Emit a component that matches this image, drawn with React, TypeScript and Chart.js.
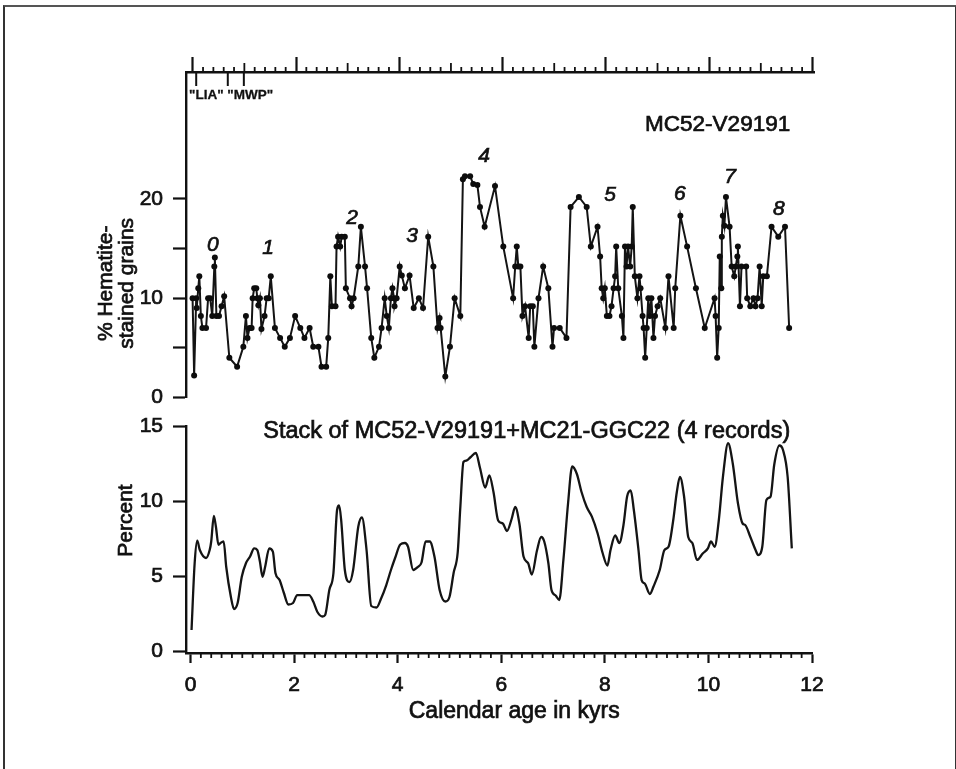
import { useEffect, useRef } from "react";
import { Chart, registerables } from "chart.js";
Chart.register(...registerables);

// ---------- data ----------
// Top panel: MC52-V29191 % hematite-stained grains vs calendar age (kyr)
const hemAge = [
  0.04, 0.07, 0.11, 0.12, 0.15, 0.17, 0.2, 0.23, 0.3, 0.34, 0.38, 0.42, 0.46, 0.47, 0.5, 0.55, 0.6, 0.65,
  0.75, 0.9, 1.02, 1.07, 1.1, 1.14, 1.18, 1.2, 1.23, 1.27, 1.29, 1.31, 1.34, 1.37, 1.43, 1.47, 1.51, 1.55,
  1.63, 1.73, 1.82, 1.92, 2.02, 2.12, 2.2, 2.3, 2.37, 2.47, 2.53, 2.62, 2.66, 2.7, 2.73, 2.8, 2.82, 2.85,
  2.89, 2.92, 2.98, 3.0, 3.08, 3.11, 3.15, 3.24, 3.29, 3.37, 3.41, 3.49, 3.55, 3.64, 3.69, 3.75, 3.79, 3.83,
  3.87, 3.9, 3.93, 3.94, 3.98, 4.04, 4.08, 4.14, 4.23, 4.31, 4.41, 4.49, 4.59, 4.69, 4.77, 4.81, 4.83, 4.92,
  5.01, 5.1, 5.21, 5.26, 5.3, 5.4, 5.46, 5.54, 5.59, 5.68, 5.88, 6.04, 6.23, 6.27, 6.3, 6.33, 6.37, 6.41,
  6.46, 6.53, 6.56, 6.61, 6.64, 6.72, 6.81, 6.91, 6.99, 7.02, 7.13, 7.26, 7.34, 7.5, 7.65, 7.73, 7.86, 7.91,
  7.94, 7.97, 8.0, 8.04, 8.09, 8.13, 8.17, 8.2, 8.22, 8.26, 8.33, 8.36, 8.39, 8.42, 8.45, 8.49, 8.52, 8.54,
  8.58, 8.63, 8.67, 8.69, 8.73, 8.75, 8.78, 8.81, 8.84, 8.87, 8.9, 8.94, 8.97, 9.02, 9.07, 9.17, 9.23, 9.33,
  9.36, 9.46, 9.59, 9.76, 9.93, 10.12, 10.14, 10.17, 10.2, 10.22, 10.25, 10.26, 10.28, 10.31, 10.34, 10.41,
  10.45, 10.5, 10.53, 10.56, 10.57, 10.61, 10.64, 10.73, 10.75, 10.81, 10.87, 10.91, 10.95, 10.99, 11.03,
  11.06, 11.13, 11.22, 11.35, 11.48, 11.56,
];
const hemPct = [
  10, 2.2, 10, 9, 11, 12.2, 8.2, 7, 7, 10, 10, 8.2, 13.2, 14.1, 8.2, 8.2, 9.2, 10.2,
  4, 3.1, 5.1, 8.2, 6, 7, 7, 10, 11, 11, 10, 9.3, 10, 6.9, 8.2, 10, 10, 12.2,
  7, 6, 5.1, 6, 8.2, 7, 6, 7, 5.1, 5.1, 3.1, 3.1, 6, 12.2, 9.2, 9.2, 15.2, 16.2,
  15.2, 16.2, 16.2, 11, 10, 9.2, 10, 13.2, 17.2, 13.2, 11, 6, 4, 5.1, 7, 10, 8.2, 7,
  10, 11, 10, 9.2, 10, 13.2, 12.3, 11, 12.3, 9, 10, 9, 16.2, 13.2, 7, 8, 7, 2.1,
  5.1, 10, 8.2, 22, 22.3, 22.3, 21.5, 21.4, 19.2, 17.2, 21.3, 15.2, 10, 13.2, 15.2, 13.2, 13.2, 8.2,
  9.2, 6, 9.2, 9.2, 5.1, 10, 13.2, 11, 5.1, 7, 7, 6, 19.2, 20.2, 19.2, 15.2, 17.2, 14.2,
  11, 10, 11, 8.2, 8.2, 9.2, 11, 12.2, 15.2, 11, 8.2, 6, 15.2, 13.2, 15.2, 13.2, 15.2, 19.2,
  12.2, 10, 12.2, 11, 8.2, 7, 4, 7, 10, 8.2, 10, 6, 8.2, 9.2, 10, 7, 12.2, 7,
  11, 18.3, 15.2, 11, 7, 10, 8.2, 4, 7, 14.2, 11, 16.2, 18.3, 17.3, 20.2, 17.2,
  13.2, 12.2, 13.2, 14.2, 15.2, 9.2, 13.2, 13.2, 10, 9.2, 10, 9.2, 10, 13.2, 9.2,
  12.2, 12.2, 17.2, 16.2, 17.2, 7,
];

// Bottom panel: stack of 4 records (percent) vs calendar age (kyr)
const stackAge = [
  0.02, 0.08, 0.13, 0.18, 0.3, 0.37, 0.4, 0.45, 0.49, 0.54, 0.58, 0.64, 0.69, 0.78, 0.84, 0.91, 0.99, 1.07,
  1.15, 1.23, 1.29, 1.34, 1.39, 1.44, 1.52, 1.59, 1.64, 1.72, 1.8, 1.89, 1.98, 2.06, 2.18, 2.29, 2.37, 2.45,
  2.55, 2.6, 2.68, 2.76, 2.83, 2.87, 2.91, 2.98, 3.07, 3.14, 3.24, 3.31, 3.4, 3.49, 3.59, 3.68, 3.78, 3.87,
  3.95, 4.05, 4.14, 4.2, 4.3, 4.39, 4.46, 4.54, 4.62, 4.71, 4.81, 4.92, 5.0, 5.08, 5.16, 5.21, 5.27, 5.33,
  5.4, 5.51, 5.59, 5.69, 5.77, 5.85, 5.94, 6.03, 6.11, 6.2, 6.27, 6.35, 6.43, 6.52, 6.59, 6.69, 6.77, 6.83,
  6.91, 6.97, 7.05, 7.12, 7.2, 7.29, 7.37, 7.46, 7.55, 7.65, 7.75, 7.86, 7.96, 8.05, 8.11, 8.2, 8.28, 8.36,
  8.43, 8.5, 8.56, 8.65, 8.71, 8.77, 8.87, 8.94, 9.06, 9.15, 9.23, 9.32, 9.39, 9.45, 9.53, 9.61, 9.69, 9.78,
  9.89, 9.99, 10.05, 10.12, 10.2, 10.28, 10.38, 10.47, 10.57, 10.66, 10.71, 10.81, 10.91, 10.96, 11.04,
  11.12, 11.2, 11.27, 11.37, 11.44, 11.53, 11.61,
];
const stackPct = [
  1.4, 5.85, 7.35, 6.73, 6.2, 6.73, 7.3, 9.0, 8.3, 7.07, 7.2, 7.3, 5.6, 3.6, 2.8, 3.2, 4.95, 5.85,
  6.3, 6.84, 6.73, 5.96, 4.95, 5.6, 6.84, 6.62, 5.2, 4.73, 3.9, 3.1, 3.2, 3.73, 3.73, 3.73, 3.3, 2.6,
  2.3, 2.4, 4.07, 5.2, 9.4, 9.7, 8.7, 5.4, 4.6, 5.4, 8.3, 8.9, 6.7, 3.0, 2.9, 3.5, 4.4, 5.4,
  6.2, 7.1, 7.2, 6.95, 5.4, 5.6, 5.9, 7.3, 7.3, 6.3, 4.07, 3.3, 3.6, 5.2, 6.6, 9.6, 12.6, 12.7,
  12.9, 13.2, 12.2, 10.9, 11.7, 10.6, 8.7, 8.5, 8.0, 8.8, 9.6, 8.5, 6.3, 5.85, 5.1, 6.7, 7.6, 7.3,
  5.85, 4.07, 3.7, 3.4, 6.07, 9.85, 12.3, 11.8, 10.6, 9.6, 8.96, 7.85, 6.5, 5.7, 6.73, 7.7, 7.2, 8.4,
  10.3, 10.7, 9.4, 6.73, 4.73, 4.5, 3.8, 4.3, 5.4, 6.73, 6.95, 8.7, 10.6, 11.6, 10.3, 7.6, 7.2, 6.07,
  6.5, 6.84, 7.3, 6.95, 8.7, 11.6, 13.85, 12.5, 9.85, 8.5, 8.4, 7.6, 6.73, 6.4, 6.95,
  10.07, 10.3, 12.4, 13.7, 13.4, 11.6, 6.84,
];

// Italic peak numbers placed in data space of the top panel
const peakNames = ["0", "1", "2", "3", "4", "5", "6", "7", "8"];
const peakAge = [0.43, 1.5, 3.12, 4.28, 5.67, 8.1, 9.45, 10.42, 11.36];
const peakPct = [15.3, 15.0, 18.1, 16.3, 24.3, 20.4, 20.5, 22.2, 19.0];

// Tick values
const topYTicks = [0, 5, 10, 15, 20];
const bottomYTicks = [0, 5, 10, 15];
const ageTicks = [0, 2, 4, 6, 8, 10, 12];
const depthMajorTicks = [0, 10, 20, 30, 40, 50, 60];
// "LIA" / "MWP" boundary markers (kyr)
const eventBounds = [0.11, 0.72, 1.03];

const FONT = "'Liberation Sans', Arial, Helvetica, sans-serif";
const INK = "#111";

function heavyText(ctx: CanvasRenderingContext2D, text: string, x: number, y: number, sw = 0.7) {
  ctx.lineWidth = sw;
  ctx.strokeStyle = INK;
  ctx.fillText(text, x, y);
  ctx.strokeText(text, x, y);
}

function vText(ctx: CanvasRenderingContext2D, text: string, x: number, y: number, font: string) {
  ctx.save();
  ctx.translate(x, y);
  ctx.rotate(-Math.PI / 2);
  ctx.font = font;
  ctx.fillStyle = INK;
  ctx.textAlign = "center";
  ctx.textBaseline = "middle";
  heavyText(ctx, text, 0, 0);
  ctx.restore();
}

export default function App() {
  const topRef = useRef<HTMLCanvasElement>(null);
  const botRef = useRef<HTMLCanvasElement>(null);

  useEffect(() => {
    const X_MIN = -0.087;

    const topDecor = {
      id: "topDecor",
      afterDraw(chart: any) {
        const { ctx, chartArea: a, scales } = chart;
        const x = scales.x, y = scales.y, d = scales.depth;
        ctx.save();
        ctx.strokeStyle = INK;
        ctx.lineWidth = 1.8;
        // minor / medium ticks of the top (depth) axis
        for (let v = 0; v <= 60; v++) {
          if (v % 10 === 0) continue;
          const len = v % 5 === 0 ? 9 : 5;
          const px = d.getPixelForValue(v);
          ctx.beginPath();
          ctx.moveTo(px, a.top);
          ctx.lineTo(px, a.top - len);
          ctx.stroke();
        }
        // LIA / MWP markers
        ctx.lineWidth = 2;
        for (const b of eventBounds) {
          const px = x.getPixelForValue(b);
          ctx.beginPath();
          ctx.moveTo(px, a.top);
          ctx.lineTo(px, a.top + 14);
          ctx.stroke();
        }
        ctx.fillStyle = INK;
        ctx.font = `bold 13.5px ${FONT}`;
        ctx.textAlign = "left";
        ctx.textBaseline = "middle";
        heavyText(ctx, '"LIA" "MWP"', a.left + 3, a.top + 23, 0.3);
        // record name
        ctx.font = `22.5px ${FONT}`;
        ctx.textAlign = "right";
        heavyText(ctx, "MC52-V29191", x.getPixelForValue(11.58), y.getPixelForValue(27.5));
        // peak numbers
        ctx.font = `italic 21px ${FONT}`;
        ctx.textAlign = "center";
        peakNames.forEach((t, i) => {
          heavyText(ctx, t, x.getPixelForValue(peakAge[i]), y.getPixelForValue(peakPct[i]));
        });
        // y title (two lines)
        vText(ctx, "% Hematite-", a.left - 80, y.getPixelForValue(11.5), `21px ${FONT}`);
        vText(ctx, "stained grains", a.left - 59, y.getPixelForValue(11.5), `21px ${FONT}`);
        ctx.restore();
      },
    };

    const bottomDecor = {
      id: "bottomDecor",
      afterDraw(chart: any) {
        const { ctx, chartArea: a, scales } = chart;
        const x = scales.x, y = scales.y;
        ctx.save();
        ctx.strokeStyle = INK;
        ctx.lineWidth = 1.8;
        for (let i = 1; i < 60; i++) {
          if (i % 10 === 0) continue;
          const px = x.getPixelForValue(i * 0.2);
          ctx.beginPath();
          ctx.moveTo(px, a.bottom);
          ctx.lineTo(px, a.bottom + 5);
          ctx.stroke();
        }
        ctx.fillStyle = INK;
        ctx.font = `23.5px ${FONT}`;
        ctx.textAlign = "right";
        ctx.textBaseline = "middle";
        heavyText(ctx, "Stack of MC52-V29191+MC21-GGC22 (4 records)", x.getPixelForValue(11.58), y.getPixelForValue(14.6));
        ctx.textAlign = "center";
        ctx.font = `23px ${FONT}`;
        heavyText(ctx, "Calendar age in kyrs", x.getPixelForValue(6.25), a.bottom + 59);
        vText(ctx, "Percent", a.left - 60, y.getPixelForValue(8.7), `21px ${FONT}`);
        ctx.restore();
      },
    };

    const tickFont = { family: FONT, size: 21 };
    const tickText = { font: tickFont, color: INK, textStrokeColor: INK, textStrokeWidth: 0.7 };
    const axisGrid = (len: number) => ({
      display: true,
      drawOnChartArea: false,
      drawTicks: true,
      tickLength: len,
      tickWidth: 2.2,
      tickColor: INK,
    });
    const axisBorder = { display: true, color: INK, width: 2.4 };

    const top = new Chart(topRef.current as HTMLCanvasElement, {
      type: "scatter",
      data: {
        datasets: [
          {
            data: hemAge.map((a, i) => ({ x: a, y: hemPct[i] })),
            showLine: true,
            borderColor: "#141414",
            borderWidth: 2,
            pointRadius: 3,
            pointBorderWidth: 0,
            pointBackgroundColor: "#0d0d0d",
            tension: 0,
          },
        ],
      },
      options: {
        animation: false,
        responsive: false,
        maintainAspectRatio: false,
        events: [],
        layout: { padding: { left: 0, right: 956 - 814, top: 52, bottom: 20 } },
        plugins: { legend: { display: false }, tooltip: { enabled: false } },
        scales: {
          x: { type: "linear", min: X_MIN, max: 12.04, display: false },
          depth: {
            type: "linear",
            axis: "x",
            position: "top",
            min: -0.65,
            max: 60.15,
            afterBuildTicks: (s: any) => {
              s.ticks = depthMajorTicks.map((v) => ({ value: v }));
            },
            afterFit: (s: any) => {
              s.height = 20;
            },
            ticks: { display: false },
            grid: axisGrid(15),
            border: axisBorder,
          },
          y: {
            type: "linear",
            position: "left",
            min: 0,
            max: 32.8,
            afterBuildTicks: (s: any) => {
              s.ticks = topYTicks.map((v) => ({ value: v }));
            },
            afterFit: (s: any) => {
              s.width = 186;
            },
            ticks: {
              ...tickText,
              padding: 10,
              callback: (v: any) => (Number(v) % 10 === 0 ? String(v) : ""),
            },
            grid: axisGrid(13),
            border: axisBorder,
          },
        },
      } as any,
      plugins: [topDecor],
    });

    const bottom = new Chart(botRef.current as HTMLCanvasElement, {
      type: "scatter",
      data: {
        datasets: [
          {
            data: stackAge.map((a, i) => ({ x: a, y: stackPct[i] })),
            showLine: true,
            borderColor: "#141414",
            borderWidth: 2.3,
            pointRadius: 0,
            cubicInterpolationMode: "monotone",
          },
        ],
      },
      options: {
        animation: false,
        responsive: false,
        maintainAspectRatio: false,
        events: [],
        layout: { padding: { left: 0, right: 956 - 812, top: 26, bottom: 76 } },
        plugins: { legend: { display: false }, tooltip: { enabled: false } },
        scales: {
          x: {
            type: "linear",
            position: "bottom",
            min: X_MIN,
            max: 12,
            afterBuildTicks: (s: any) => {
              s.ticks = ageTicks.map((v) => ({ value: v }));
            },
            afterFit: (s: any) => {
              s.height = 40;
            },
            ticks: { ...tickText, padding: 10, maxRotation: 0 },
            grid: axisGrid(10),
            border: axisBorder,
          },
          y: {
            type: "linear",
            position: "left",
            min: -0.133,
            max: 15,
            afterBuildTicks: (s: any) => {
              s.ticks = bottomYTicks.map((v) => ({ value: v }));
            },
            afterFit: (s: any) => {
              s.width = 186;
            },
            ticks: { ...tickText, padding: 10 },
            grid: axisGrid(13),
            border: axisBorder,
          },
        },
      } as any,
      plugins: [bottomDecor],
    });

    return () => {
      top.destroy();
      bottom.destroy();
    };
  }, []);

  return (
    <div
      style={{
        position: "absolute",
        left: 0,
        top: 0,
        width: 956,
        height: 769,
        overflow: "hidden",
        background: "#fff",
      }}
    >
      <div
        style={{
          position: "absolute",
          left: 3,
          top: 5,
          width: 950,
          height: 820,
          borderLeft: "2px solid #333",
          borderTop: "2px solid #555",
          borderRight: "2px solid #333",
        }}
      />
      <canvas
        ref={topRef}
        width={956}
        height={420}
        style={{ position: "absolute", left: 0, top: 0, width: 956, height: 420 }}
      />
      <canvas
        ref={botRef}
        width={956}
        height={369}
        style={{ position: "absolute", left: 0, top: 400, width: 956, height: 369 }}
      />
    </div>
  );
}
